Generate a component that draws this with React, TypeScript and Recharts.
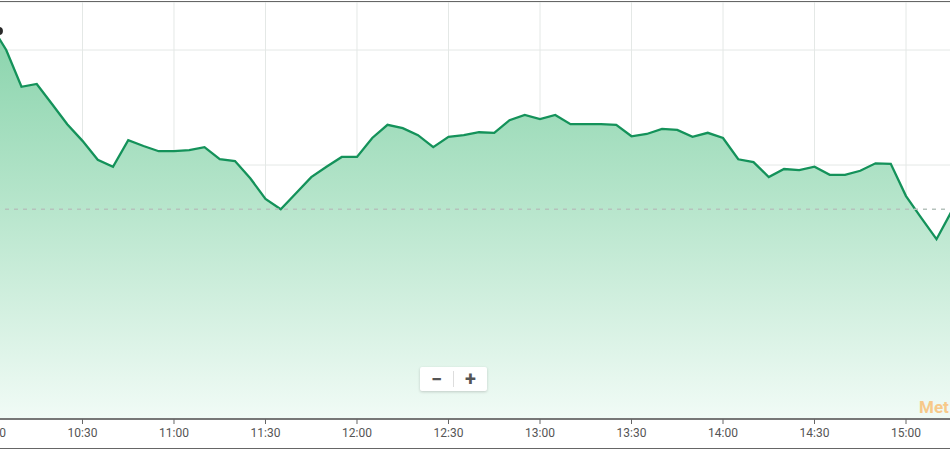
import React from 'react';
import { AreaChart, Area, XAxis, YAxis, CartesianGrid, ReferenceLine, ReferenceDot } from 'recharts';

// minutes after 10:00, one point every 5 minutes
const minutes = [
  0, 5, 10, 15, 20, 25, 30, 35, 40, 45, 50, 55, 60, 65, 70, 75, 80, 85, 90, 95, 100,
  105, 110, 115, 120, 125, 130, 135, 140, 145, 150, 155, 160, 165, 170, 175, 180, 185,
  190, 195, 200, 205, 210, 215, 220, 225, 230, 235, 240, 245, 250, 255, 260, 265, 270,
  275, 280, 285, 290, 295, 300, 305, 310, 315,
];

const prices = [
  10.643, 10.6, 10.536, 10.541, 10.506, 10.471, 10.442, 10.409, 10.397, 10.443, 10.433,
  10.424, 10.424, 10.426, 10.431, 10.41, 10.407, 10.377, 10.341, 10.323, 10.351, 10.379,
  10.397, 10.414, 10.414, 10.447, 10.47, 10.464, 10.452, 10.431, 10.449, 10.452, 10.457,
  10.456, 10.478, 10.487, 10.48, 10.487, 10.471, 10.471, 10.471, 10.47, 10.45, 10.454,
  10.463, 10.461, 10.449, 10.456, 10.447, 10.41, 10.405, 10.379, 10.393, 10.391, 10.397,
  10.383, 10.383, 10.39, 10.403, 10.402, 10.346, 10.308, 10.271, 10.32,
];

const prevClose = 10.323;
// small marker at the top-left edge
const marker = { t: 2.6, price: 10.633 };

const timeTicks = [0, 30, 60, 90, 120, 150, 180, 210, 240, 270, 300];
const timeLabels = ['10:00', '10:30', '11:00', '11:30', '12:00', '12:30', '13:00', '13:30', '14:00', '14:30', '15:00'];
const priceTicks = [10.0, 10.2, 10.4, 10.6];

const data = minutes.map((t, i) => ({ t, price: prices[i] }));

const fmtTime = (t: number) => timeLabels[timeTicks.indexOf(t)] ?? '';

const zoomBtn: React.CSSProperties = {
  width: 33,
  height: 24,
  display: 'flex',
  alignItems: 'center',
  justifyContent: 'center',
  fontFamily: 'Roboto, sans-serif',
  fontWeight: 700,
  fontSize: 20,
  color: '#555',
  lineHeight: 1,
};

export default function App() {
  return (
    <div style={{ position: 'relative', width: 950, height: 450, overflow: 'hidden', background: '#fff' }}>
      <style>{`body { margin: 0; }`}</style>
      {/* chart sits a bit wider than the frame so it runs off both edges */}
      <div style={{ position: 'absolute', left: -40, top: 0 }}>
        <AreaChart width={1010} height={450} data={data} margin={{ top: 2, right: 0, bottom: 0, left: 0 }}>
          <defs>
            <linearGradient id="fillPrice" x1="0" y1="0" x2="0" y2="1">
              <stop offset="0%" stopColor="#88d3ab" />
              <stop offset="45%" stopColor="#b6e5cb" />
              <stop offset="100%" stopColor="#f1fbf6" />
            </linearGradient>
          </defs>
          <CartesianGrid stroke="#e4e8e6" strokeWidth={1} />
          <XAxis
            dataKey="t"
            type="number"
            domain={[-10.16, 320.98]}
            allowDataOverflow
            ticks={timeTicks}
            interval={0}
            tickFormatter={fmtTime}
            height={31}
            axisLine={{ stroke: '#777', strokeWidth: 2 }}
            tickLine={{ stroke: '#666' }}
            tickSize={5}
            tickMargin={4}
            tick={{ fill: '#555', fontSize: 12, fontFamily: 'Roboto, sans-serif' }}
          />
          <YAxis hide type="number" domain={[9.9583, 10.6835]} ticks={priceTicks} allowDataOverflow />
          <Area
            type="linear"
            dataKey="price"
            stroke="#14925a"
            strokeWidth={2.3}
            fill="url(#fillPrice)"
            fillOpacity={1}
            dot={false}
            activeDot={false}
            isAnimationActive={false}
          />
          <ReferenceLine y={prevClose} stroke="#b5c2bc" strokeDasharray="4 5" strokeWidth={1.5} />
          <ReferenceDot x={marker.t} y={marker.price} r={4} fill="#2a2a2a" stroke="none" ifOverflow="visible" />
        </AreaChart>
      </div>

      {/* frame lines */}
      <div style={{ position: 'absolute', left: 0, top: 1, width: 950, height: 1, background: '#666' }} />
      <div style={{ position: 'absolute', left: 0, top: 448, width: 950, height: 1, background: '#666' }} />

      {/* zoom buttons */}
      <div
        style={{
          position: 'absolute',
          left: 420,
          top: 367,
          display: 'flex',
          background: '#fff',
          borderRadius: 2,
          boxShadow: '0 1px 3px rgba(0,0,0,0.18)',
        }}
      >
        <div style={zoomBtn}>−</div>
        <div style={{ width: 1, height: 16, marginTop: 4, background: '#ddd' }} />
        <div style={zoomBtn}>+</div>
      </div>

      {/* watermark */}
      <div
        style={{
          position: 'absolute',
          left: 919,
          top: 397,
          fontFamily: 'Roboto, sans-serif',
          fontWeight: 700,
          fontSize: 17,
          color: '#f7c98a',
          whiteSpace: 'nowrap',
        }}
      >
        Met
      </div>
    </div>
  );
}
